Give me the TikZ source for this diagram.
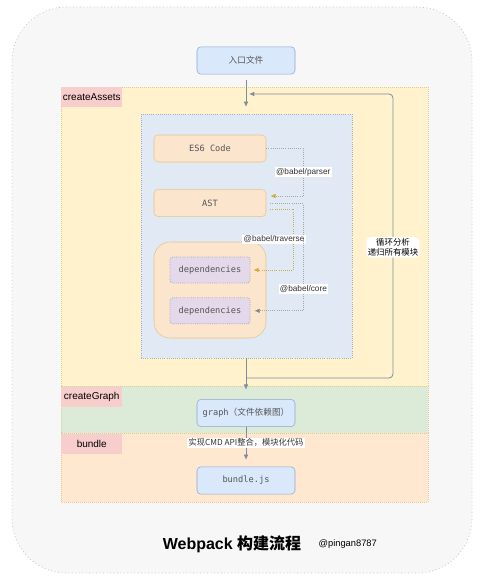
\documentclass[tikz,border=0pt]{standalone}
\usepackage{fontspec}
\setmainfont{Liberation Sans}
\setmonofont{DejaVu Sans Mono}
\newfontfamily\cjk{Noto Sans CJK SC}
\usepackage{xcolor}
\definecolor{frameGray}{HTML}{C4C4C4}
\definecolor{frameBg}{HTML}{F7F7F7}
\definecolor{assetsBg}{HTML}{FFF2CC}
\definecolor{graphBg}{HTML}{DCEBD8}
\definecolor{bundleBg}{HTML}{FFE8CF}
\definecolor{bandLine}{HTML}{E0CC8E}
\definecolor{panelBg}{HTML}{E1EAF4}
\definecolor{panelLine}{HTML}{9EB0C8}
\definecolor{tagBg}{HTML}{F8CECC}
\definecolor{fileBg}{HTML}{DAE8FC}
\definecolor{fileLine}{HTML}{8CA6CC}
\definecolor{codeBg}{HTML}{FCE5CD}
\definecolor{codeLine}{HTML}{E2C58E}
\definecolor{depBg}{HTML}{E4D9EA}
\definecolor{depLine}{HTML}{B29CC0}
\definecolor{flowGray}{HTML}{7F8C9E}
\definecolor{linkGray}{HTML}{A3A8B0}
\definecolor{linkYellow}{HTML}{D6A93A}
\definecolor{textGray}{HTML}{555555}
\usepackage{tikz}
\usetikzlibrary{positioning,calc,arrows.meta}
\tikzset{%
  stageBand/.style={%
    draw=bandLine,
    densely dotted,
    line width=0.5pt
  },
  stageTag/.style={%
    rectangle,
    fill=tagBg,
    anchor=north west,
    minimum width=45.75pt,
    minimum height=15pt,
    inner sep=1pt,
    font=\fontsize{7.5}{8}\selectfont
  },
  fileBox/.style={%
    rectangle,
    rounded corners=3pt,
    draw=fileLine,
    fill=fileBg,
    minimum width=73.5pt,
    minimum height=20.5pt,
    text=textGray,
    font=\ttfamily\fontsize{6.5}{7}\selectfont
  },
  codeBox/.style={%
    rectangle,
    rounded corners=3pt,
    draw=codeLine,
    fill=codeBg,
    minimum width=84pt,
    minimum height=20.25pt,
    text=textGray,
    font=\ttfamily\fontsize{6.5}{7}\selectfont
  },
  depBox/.style={%
    rectangle,
    rounded corners=2pt,
    draw=depLine,
    densely dotted,
    line width=0.6pt,
    fill=depBg,
    minimum width=60pt,
    minimum height=19.5pt,
    text=textGray,
    font=\ttfamily\fontsize{6.5}{7}\selectfont
  },
  flowArrow/.style={%
    -{Latex[length=4pt,width=3.5pt]},
    draw=flowGray,
    line width=0.6pt
  },
  babelLink/.style={%
    -{Latex[length=4pt,width=3.5pt,color=linkYellow]},
    draw=linkGray,
    densely dotted,
    line width=0.6pt
  },
  toolTag/.style={%
    fill=white,
    inner sep=1pt,
    text=black!80,
    font=\fontsize{6.2}{7}\selectfont
  }
}

\begin{document}
\begin{tikzpicture}[x=0.75pt,y=-0.75pt]
  \useasboundingbox (0,0) rectangle (480,581);
  \fill[white] (0,0) rectangle (480,581);
  \draw[draw=frameGray, fill=frameBg, dotted, line width=0.6pt, rounded corners=41pt] (12,7) rectangle (472,573);

  \draw[stageBand, fill=assetsBg] (61,87) rectangle (428,386);
  \draw[stageBand, fill=graphBg] (61,386) rectangle (428,433);
  \draw[stageBand, fill=bundleBg] (61,433) rectangle (428,502);
  \node[stageTag] (assetsTag) at (61,87) {createAssets};
  \node[stageTag] (graphTag) at (61,387) {createGraph};
  \node[stageTag] (bundleTag) at (61,434) {bundle};

  \node[rectangle, draw=panelLine, densely dotted, line width=0.6pt, fill=panelBg,
        minimum width=158.25pt, minimum height=183pt] (parsePanel) at (246.5,236) {};

  \node[fileBox, font=\cjk\fontsize{6.5}{7}\selectfont] (entry) at (246,60.5) {入口文件};
  \node[codeBox] (es6) at (210,148.5) {ES6 Code};
  \node[codeBox, below=20.25pt of es6] (ast) {AST};
  \node[rectangle, rounded corners=12pt, draw=codeLine, fill=codeBg,
        minimum width=84pt, minimum height=72pt] (depGroup) at (210,290) {};
  \node[depBox] (deps1) at (210,270) {dependencies};
  \node[depBox, below=10.5pt of deps1] (deps2) {dependencies};
  \node[fileBox] (graph) at (246,413) {graph{\cjk（文件依赖图）}};
  \node[fileBox] (bundleJs) at (246,480.5) {bundle.js};

  \coordinate (loopStart) at (246,378);
  \coordinate (loopEnd) at (249,94);
  \coordinate (loopSide) at (393,0);

  \draw[flowArrow, shorten <=4pt, shorten >=5pt] (entry) -- (entry |- parsePanel.north);
  \draw[flowArrow, rounded corners=3pt] (loopStart) -| node[pos=0.73, fill=white, inner sep=1pt, align=center,
        font=\cjk\fontsize{6.3}{7.5}\selectfont]{循环分析\\递归所有模块} (loopSide |- loopEnd) -- (loopEnd);
  \draw[flowArrow, shorten >=7pt] (graph |- parsePanel.south) -- (graph);
  \draw[flowArrow, shorten >=5pt] (graph) -- node[pos=0.4, toolTag, font=\cjk\fontsize{6.2}{7}\selectfont]{实现CMD API整合，模块化代码} (bundleJs);

  \draw[babelLink] (es6.east) -- ++(37,0) |- node[pos=0.25, toolTag]{@babel/parser} ($(ast.east)+(4,-7)$);
  \draw[babelLink, draw=linkYellow!70!linkGray] ($(ast.east)+(4,6)$) -| node[pos=0.75, toolTag, xshift=-14.5pt]{@babel/traverse} ($(deps1.east)+(43,0)$) -- ($(deps1.east)+(3,0)$);
  \draw[babelLink, -{Latex[length=4pt,width=3.5pt,color=linkGray!80!black]}] ($(ast.east)+(4,0.5)$) -| node[pos=0.9, toolTag]{@babel/core} ($(deps2.east)+(53,0)$) -- ($(deps2.east)+(4,0)$);

  \node[font=\bfseries\fontsize{12}{14}\selectfont] (title) at (232,544) {Webpack {\cjk 构建流程}};
  \node[font=\fontsize{7}{8}\selectfont, right=6pt of title] (author) {@pingan8787};
\end{tikzpicture}
\end{document}
